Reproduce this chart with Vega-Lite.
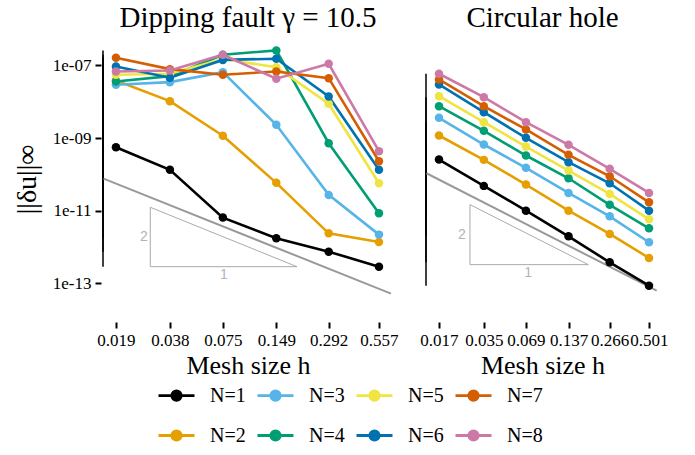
{
  "$schema": "https://vega.github.io/schema/vega-lite/v6.json",
  "background": "white",
  "padding": {"left": 13, "top": 4, "right": 5, "bottom": 5},
  "datasets": {
    "pts": [
      {"panel":"fault","N":"N=1","h":0.019,"err":5.61e-10},{"panel":"fault","N":"N=1","h":0.038,"err":1.34e-10},{"panel":"fault","N":"N=1","h":0.075,"err":6.50e-12},{"panel":"fault","N":"N=1","h":0.149,"err":1.75e-12},{"panel":"fault","N":"N=1","h":0.292,"err":7.52e-13},{"panel":"fault","N":"N=1","h":0.557,"err":2.90e-13},
      {"panel":"fault","N":"N=2","h":0.019,"err":3.86e-8},{"panel":"fault","N":"N=2","h":0.038,"err":1.04e-8},{"panel":"fault","N":"N=2","h":0.075,"err":1.16e-9},{"panel":"fault","N":"N=2","h":0.149,"err":5.87e-11},{"panel":"fault","N":"N=2","h":0.292,"err":2.40e-12},{"panel":"fault","N":"N=2","h":0.557,"err":1.39e-12},
      {"panel":"fault","N":"N=3","h":0.019,"err":2.94e-8},{"panel":"fault","N":"N=3","h":0.038,"err":3.47e-8},{"panel":"fault","N":"N=3","h":0.075,"err":6.53e-8},{"panel":"fault","N":"N=3","h":0.149,"err":2.32e-9},{"panel":"fault","N":"N=3","h":0.292,"err":2.74e-11},{"panel":"fault","N":"N=3","h":0.557,"err":2.21e-12},
      {"panel":"fault","N":"N=4","h":0.019,"err":3.62e-8},{"panel":"fault","N":"N=4","h":0.038,"err":5.07e-8},{"panel":"fault","N":"N=4","h":0.075,"err":1.97e-7},{"panel":"fault","N":"N=4","h":0.149,"err":2.59e-7},{"panel":"fault","N":"N=4","h":0.292,"err":7.24e-10},{"panel":"fault","N":"N=4","h":0.557,"err":8.53e-12},
      {"panel":"fault","N":"N=5","h":0.019,"err":5.55e-8},{"panel":"fault","N":"N=5","h":0.038,"err":5.90e-8},{"panel":"fault","N":"N=5","h":0.075,"err":1.50e-7},{"panel":"fault","N":"N=5","h":0.149,"err":8.97e-8},{"panel":"fault","N":"N=5","h":0.292,"err":8.81e-9},{"panel":"fault","N":"N=5","h":0.557,"err":5.73e-11},
      {"panel":"fault","N":"N=6","h":0.019,"err":9.38e-8},{"panel":"fault","N":"N=6","h":0.038,"err":4.58e-8},{"panel":"fault","N":"N=6","h":0.075,"err":1.42e-7},{"panel":"fault","N":"N=6","h":0.149,"err":1.53e-7},{"panel":"fault","N":"N=6","h":0.292,"err":1.40e-8},{"panel":"fault","N":"N=6","h":0.557,"err":1.34e-10},
      {"panel":"fault","N":"N=7","h":0.019,"err":1.63e-7},{"panel":"fault","N":"N=7","h":0.038,"err":7.91e-8},{"panel":"fault","N":"N=7","h":0.075,"err":5.55e-8},{"panel":"fault","N":"N=7","h":0.149,"err":6.84e-8},{"panel":"fault","N":"N=7","h":0.292,"err":4.47e-8},{"panel":"fault","N":"N=7","h":0.557,"err":2.31e-10},
      {"panel":"fault","N":"N=8","h":0.019,"err":6.84e-8},{"panel":"fault","N":"N=8","h":0.038,"err":7.28e-8},{"panel":"fault","N":"N=8","h":0.075,"err":1.97e-7},{"panel":"fault","N":"N=8","h":0.149,"err":4.31e-8},{"panel":"fault","N":"N=8","h":0.292,"err":1.11e-7},{"panel":"fault","N":"N=8","h":0.557,"err":4.36e-10},
      {"panel":"hole","N":"N=1","h":0.017,"err":2.57e-10},{"panel":"hole","N":"N=1","h":0.035,"err":4.85e-11},{"panel":"hole","N":"N=1","h":0.069,"err":1.01e-11},{"panel":"hole","N":"N=1","h":0.137,"err":1.99e-12},{"panel":"hole","N":"N=1","h":0.266,"err":3.81e-13},{"panel":"hole","N":"N=1","h":0.501,"err":8.69e-14},
      {"panel":"hole","N":"N=2","h":0.017,"err":1.18e-9},{"panel":"hole","N":"N=2","h":0.035,"err":2.52e-10},{"panel":"hole","N":"N=2","h":0.069,"err":5.27e-11},{"panel":"hole","N":"N=2","h":0.137,"err":1.01e-11},{"panel":"hole","N":"N=2","h":0.266,"err":2.31e-12},{"panel":"hole","N":"N=2","h":0.501,"err":5.04e-13},
      {"panel":"hole","N":"N=3","h":0.017,"err":3.62e-9},{"panel":"hole","N":"N=3","h":0.035,"err":6.67e-10},{"panel":"hole","N":"N=3","h":0.069,"err":1.52e-10},{"panel":"hole","N":"N=3","h":0.137,"err":3.11e-11},{"panel":"hole","N":"N=3","h":0.266,"err":7.05e-12},{"panel":"hole","N":"N=3","h":0.501,"err":1.36e-12},
      {"panel":"hole","N":"N=4","h":0.017,"err":7.57e-9},{"panel":"hole","N":"N=4","h":0.035,"err":1.59e-9},{"panel":"hole","N":"N=4","h":0.069,"err":3.32e-10},{"panel":"hole","N":"N=4","h":0.137,"err":7.85e-11},{"panel":"hole","N":"N=4","h":0.266,"err":1.46e-11},{"panel":"hole","N":"N=4","h":0.501,"err":3.30e-12},
      {"panel":"hole","N":"N=5","h":0.017,"err":1.43e-8},{"panel":"hole","N":"N=5","h":0.035,"err":2.74e-9},{"panel":"hole","N":"N=5","h":0.069,"err":5.87e-10},{"panel":"hole","N":"N=5","h":0.137,"err":1.28e-10},{"panel":"hole","N":"N=5","h":0.266,"err":2.92e-11},{"panel":"hole","N":"N=5","h":0.501,"err":5.83e-12},
      {"panel":"hole","N":"N=6","h":0.017,"err":3.00e-8},{"panel":"hole","N":"N=6","h":0.035,"err":5.16e-9},{"panel":"hole","N":"N=6","h":0.069,"err":1.02e-9},{"panel":"hole","N":"N=6","h":0.137,"err":2.17e-10},{"panel":"hole","N":"N=6","h":0.266,"err":5.73e-11},{"panel":"hole","N":"N=6","h":0.501,"err":1.01e-11},
      {"panel":"hole","N":"N=7","h":0.017,"err":4.11e-8},{"panel":"hole","N":"N=7","h":0.035,"err":7.57e-9},{"panel":"hole","N":"N=7","h":0.069,"err":1.73e-9},{"panel":"hole","N":"N=7","h":0.137,"err":3.47e-10},{"panel":"hole","N":"N=7","h":0.266,"err":8.91e-11},{"panel":"hole","N":"N=7","h":0.501,"err":1.71e-11},
      {"panel":"hole","N":"N=8","h":0.017,"err":5.90e-8},{"panel":"hole","N":"N=8","h":0.035,"err":1.34e-8},{"panel":"hole","N":"N=8","h":0.069,"err":2.74e-9},{"panel":"hole","N":"N=8","h":0.137,"err":6.53e-10},{"panel":"hole","N":"N=8","h":0.266,"err":1.43e-10},{"panel":"hole","N":"N=8","h":0.501,"err":3.11e-11}
    ],
    "ref": [
      {"panel":"fault","h":0.0162,"err":7.71e-11},{"panel":"fault","h":0.650,"err":5.25e-14},
      {"panel":"hole","h":0.0139,"err":1.08e-10},{"panel":"hole","h":0.567,"err":6.34e-14}
    ],
    "tri": [
      {"panel":"fault","o":1,"h":0.02953,"err":1.25e-11},{"panel":"fault","o":2,"h":0.02953,"err":2.9e-13},{"panel":"fault","o":3,"h":0.1944,"err":2.9e-13},{"panel":"fault","o":4,"h":0.02953,"err":1.25e-11},
      {"panel":"hole","o":1,"h":0.02801,"err":1.48e-11},{"panel":"hole","o":2,"h":0.02801,"err":3.3e-13},{"panel":"hole","o":3,"h":0.1885,"err":3.3e-13},{"panel":"hole","o":4,"h":0.02801,"err":1.48e-11}
    ],
    "lab": [
      {"panel":"fault","lab":"2","h":0.0272,"err":1.95e-12},{"panel":"fault","lab":"1","h":0.0761,"err":1.75e-13},
      {"panel":"hole","lab":"2","h":0.0246,"err":2.21e-12},{"panel":"hole","lab":"1","h":0.0714,"err":1.99e-13}
    ]
  },
  "config": {
    "view": {"stroke": null},
    "font": "Liberation Serif",
    "style": {"guide-title": {"font": "Liberation Serif", "fontWeight": "normal"}, "guide-label": {"font": "Liberation Serif"}},
    "axis": {"grid": false, "domain": false, "labelFont": "Liberation Serif", "titleFont": "Liberation Serif", "labelColor": "black", "titleColor": "black", "tickColor": "black", "titleFontWeight": "normal", "tickWidth": 2},
    "legend": {"labelFont": "Liberation Serif", "titleFont": "Liberation Serif"}
  },
  "spacing": 20,
  "resolve": {"scale": {"x": "independent", "y": "independent"}},
  "hconcat": [
    {
      "width": 290, "height": 278,
      "title": {"text": "Dipping fault γ = 10.5", "font": "Liberation Serif", "fontSize": 29, "fontWeight": "normal", "anchor": "middle", "baseline": "alphabetic", "offset": -16, "color": "black"},
      "encoding": {
        "x": {"field": "h", "type": "quantitative", "scale": {"type": "log", "domain": [0.01609, 0.667], "nice": false},
              "axis": {"title": "Mesh size h", "titleFont": "Liberation Serif", "labelFont": "Liberation Serif", "values": [0.019, 0.038, 0.075, 0.149, 0.292, 0.557], "format": ".3f", "labelFontSize": 17, "titleFontSize": 26, "tickSize": 6, "offset": 4, "labelPadding": 4, "titlePadding": 4, "labelFlush": false, "labelOverlap": false}},
        "y": {"field": "err", "type": "quantitative", "scale": {"type": "log", "domain": [1.122e-14, 5.012e-7], "nice": false},
              "axis": {"title": "||δu||∞", "titleFont": "Liberation Serif", "labelFont": "Liberation Serif", "values": [1e-13, 1e-11, 1e-9, 1e-7], "labelExpr": "datum.value < 1e-12 ? '1e-13' : datum.value < 1e-10 ? '1e-11' : datum.value < 1e-8 ? '1e-09' : '1e-07'", "labelFontSize": 17, "titleFontSize": 28, "tickSize": 6, "offset": 2, "labelPadding": 4, "titlePadding": 11, "labelFlush": false, "labelOverlap": false}}
      },
      "layer": [
        {"data": {"name": "pts"}, "transform": [{"filter": "datum.panel === 'fault'"}],
         "mark": {"type": "rule", "color": "black", "strokeWidth": 1.5},
         "encoding": {"x": {"datum": 0.01609, "type": "quantitative"}, "y": {"aggregate": "max", "field": "err", "type": "quantitative", "title": "||δu||∞"}, "y2": {"aggregate": "min", "field": "err"}}},
        {"data": {"name": "ref"}, "transform": [{"filter": "datum.panel === 'fault'"}],
         "mark": {"type": "line", "color": "#999999", "strokeWidth": 2}},
        {"data": {"name": "tri"}, "transform": [{"filter": "datum.panel === 'fault'"}],
         "mark": {"type": "line", "color": "#a0a0a0", "strokeWidth": 0.9},
         "encoding": {"order": {"field": "o", "type": "quantitative"}}},
        {"data": {"name": "lab"}, "transform": [{"filter": "datum.panel === 'fault'"}],
         "mark": {"type": "text", "color": "#b3b3b3", "font": "Liberation Sans", "fontSize": 14, "baseline": "middle", "align": "center"},
         "encoding": {"text": {"field": "lab"}}},
        {"data": {"name": "pts"}, "transform": [{"filter": "datum.panel === 'fault'"}],
         "mark": {"type": "line", "strokeWidth": 2.6},
         "encoding": {"color": {"field": "N", "type": "nominal", "scale": {"domain": ["N=1","N=3","N=5","N=7","N=2","N=4","N=6","N=8"], "range": ["#000000","#56B4E9","#F0E442","#D55E00","#E69F00","#009E73","#0072B2","#CC79A7"]},
           "legend": {"orient": "none", "legendX": 54, "legendY": 336, "title": null, "columns": 4, "direction": "horizontal", "symbolType": "M-1,0L1,0M-0.26,0A0.26,0.26,0,1,0,0.26,0A0.26,0.26,0,1,0,-0.26,0Z", "symbolSize": 1296, "symbolStrokeWidth": 2.8, "labelFont": "Liberation Serif", "labelFontSize": 20, "labelColor": "black", "labelOffset": 14, "columnPadding": 5, "rowPadding": 10, "padding": 0,
             "encode": {"symbols": {"update": {"fill": {"scale": "color", "field": "value"}, "stroke": {"scale": "color", "field": "value"}, "opacity": {"value": 1}}}, "labels": {"update": {"font": {"value": "Liberation Serif"}}}}}},
           "detail": {"field": "N"}}},
        {"data": {"name": "pts"}, "transform": [{"filter": "datum.panel === 'fault'"}],
         "mark": {"type": "circle", "size": 72, "opacity": 1},
         "encoding": {"color": {"field": "N", "type": "nominal"}}}
      ]
    },
    {
      "width": 233, "height": 278,
      "title": {"text": "Circular hole", "font": "Liberation Serif", "fontSize": 29, "fontWeight": "normal", "anchor": "middle", "baseline": "alphabetic", "offset": -16, "color": "black"},
      "encoding": {
        "x": {"field": "h", "type": "quantitative", "scale": {"type": "log", "domain": [0.01379, 0.5886], "nice": false},
              "axis": {"title": "Mesh size h", "titleFont": "Liberation Serif", "labelFont": "Liberation Serif", "values": [0.017, 0.035, 0.069, 0.137, 0.266, 0.501], "format": ".3f", "labelFontSize": 17, "titleFontSize": 26, "tickSize": 6, "offset": 4, "labelPadding": 4, "titlePadding": 4, "labelFlush": false, "labelOverlap": false}},
        "y": {"field": "err", "type": "quantitative", "scale": {"type": "log", "domain": [1.122e-14, 5.012e-7], "nice": false}, "axis": null}
      },
      "layer": [
        {"data": {"name": "pts"}, "transform": [{"filter": "datum.panel === 'hole'"}],
         "mark": {"type": "rule", "color": "black", "strokeWidth": 1.5},
         "encoding": {"x": {"datum": 0.01379, "type": "quantitative"}, "y": {"aggregate": "max", "field": "err", "type": "quantitative", "axis": null}, "y2": {"aggregate": "min", "field": "err"}}},
        {"data": {"name": "ref"}, "transform": [{"filter": "datum.panel === 'hole'"}],
         "mark": {"type": "line", "color": "#999999", "strokeWidth": 2}},
        {"data": {"name": "tri"}, "transform": [{"filter": "datum.panel === 'hole'"}],
         "mark": {"type": "line", "color": "#a0a0a0", "strokeWidth": 0.9},
         "encoding": {"order": {"field": "o", "type": "quantitative"}}},
        {"data": {"name": "lab"}, "transform": [{"filter": "datum.panel === 'hole'"}],
         "mark": {"type": "text", "color": "#b3b3b3", "font": "Liberation Sans", "fontSize": 14, "baseline": "middle", "align": "center"},
         "encoding": {"text": {"field": "lab"}}},
        {"data": {"name": "pts"}, "transform": [{"filter": "datum.panel === 'hole'"}],
         "mark": {"type": "line", "strokeWidth": 2.6},
         "encoding": {"color": {"field": "N", "type": "nominal"}, "detail": {"field": "N"}}},
        {"data": {"name": "pts"}, "transform": [{"filter": "datum.panel === 'hole'"}],
         "mark": {"type": "circle", "size": 72, "opacity": 1},
         "encoding": {"color": {"field": "N", "type": "nominal"}}}
      ]
    }
  ]
}
